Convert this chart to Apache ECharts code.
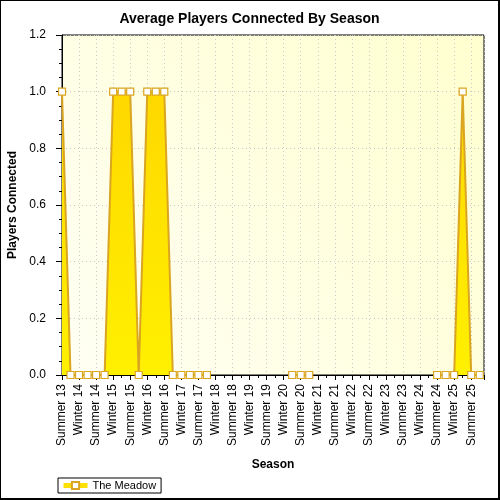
<!DOCTYPE html>
<html>
<head>
<meta charset="utf-8">
<script src="https://cdn.jsdelivr.net/npm/echarts@6/dist/echarts.min.js"></script>
<style>
  html, body { margin:0; padding:0; background:#fff; }
  #chart { width:500px; height:500px; box-sizing:border-box; border:1px solid #000; border-right-width:2px; border-bottom-width:2px; }
</style>
</head>
<body>
<div id="chart"></div>
<script>
// season labels, one on every second slot of the x axis
const seasons = [
  'Summer 13', 'Winter 14', 'Summer 14', 'Winter 15', 'Summer 15', 'Winter 16',
  'Summer 16', 'Winter 17', 'Summer 17', 'Winter 18', 'Summer 18', 'Winter 19',
  'Summer 19', 'Winter 20', 'Summer 20', 'Winter 21', 'Summer 21', 'Winter 22',
  'Summer 22', 'Winter 23', 'Summer 23', 'Winter 24', 'Summer 24', 'Winter 25',
  'Summer 25'
];
// average players per slot (null = no data)
const meadow = [
  1, 0, 0, 0, 0, 0, 1, 1, 1, 0, 1, 1, 1, 0, 0, 0, 0, 0,
  null, null, null, null, null, null, null, null, null,
  0, 0, 0,
  null, null, null, null, null, null, null, null, null, null, null, null, null, null,
  0, 0, 0, 1, 0, 0
];
const yTicks = [0, 0.2, 0.4, 0.6, 0.8, 1.0, 1.2];

const FONT = 'Liberation Sans';
const chart = echarts.init(document.getElementById('chart'), null, { renderer: 'canvas' });

const sideAxis = {
  axisLine: { show: false },
  axisLabel: { show: false },
  splitLine: { show: false },
  axisTick: { show: true, inside: true, length: 4, lineStyle: { color: '#000' } },
  minorTick: { show: true, splitNumber: 2, length: 3, lineStyle: { color: '#000' } }
};

chart.setOption({
  backgroundColor: '#fff',
  animation: false,
  title: {
    text: 'Average Players Connected By Season',
    left: 'center', top: 6,
    textStyle: { fontFamily: FONT, fontSize: 14, fontWeight: 'bold', color: '#000' }
  },
  legend: {
    left: 57, top: 477,
    padding: [2, 5, 2, 3],
    borderColor: '#000', borderWidth: 1,
    itemWidth: 24, itemHeight: 9,
    lineStyle: { width: 5, color: '#ffe000' },
    textStyle: { fontFamily: FONT, fontSize: 11, color: '#000' },
    data: ['The Meadow']
  },
  grid: {
    left: 61, right: 14, top: 34, bottom: 123,
    outerBoundsMode: 'none',
    show: true, borderColor: '#000', borderWidth: 1,
    backgroundColor: new echarts.graphic.LinearGradient(0, 1, 1, 0, [
      { offset: 0, color: '#fffff4' },
      { offset: 1, color: '#ffffcf' }
    ])
  },
  xAxis: [{
    type: 'value', min: 0, max: 49.5, interval: 2,
    name: 'Season', nameLocation: 'middle', nameGap: 84,
    nameTextStyle: { fontFamily: FONT, fontSize: 12, fontWeight: 'bold', color: '#000' },
    axisLine: { show: true, lineStyle: { color: '#000', width: 1 } },
    axisTick: { show: true, length: 5, lineStyle: { color: '#000' } },
    minorTick: { show: true, splitNumber: 2, length: 3, lineStyle: { color: '#000' } },
    axisLabel: {
      rotate: 90, margin: 9, showMaxLabel: false,
      fontFamily: FONT, fontSize: 12, color: '#000',
      formatter: v => (v % 2 === 0 && seasons[v / 2]) ? seasons[v / 2] : ''
    },
    splitLine: { show: true, lineStyle: { color: '#c8c8c8', type: [1, 3] } }
  }, Object.assign({ type: 'value', position: 'top', min: 0, max: 49.5, interval: 2 }, sideAxis)],
  yAxis: [{
    type: 'value', min: 0, max: 1.2, interval: 0.2,
    name: 'Players Connected', nameLocation: 'middle', nameGap: 38,
    nameTextStyle: { fontFamily: FONT, fontSize: 12, fontWeight: 'bold', color: '#000' },
    axisLine: { show: true, lineStyle: { color: '#000', width: 1 } },
    axisTick: { show: true, length: 6, lineStyle: { color: '#000' } },
    minorTick: { show: true, splitNumber: 4, length: 3, lineStyle: { color: '#000' } },
    axisLabel: {
      margin: 16, fontFamily: FONT, fontSize: 12, color: '#000',
      formatter: v => yTicks.some(t => Math.abs(t - v) < 1e-6) ? v.toFixed(1) : ''
    },
    splitLine: { show: true, lineStyle: { color: '#c8c8c8', type: [1, 3] } }
  }, Object.assign({ type: 'value', position: 'right', min: 0, max: 1.2, interval: 0.2 }, sideAxis, {
    minorTick: { show: true, splitNumber: 4, length: 3, lineStyle: { color: '#000' } }
  })],
  series: [{
    name: 'The Meadow',
    type: 'line',
    xAxisIndex: 0, yAxisIndex: 0,
    data: meadow.map((v, i) => [i, v]),
    connectNulls: false,
    symbol: 'rect', symbolSize: 7, showAllSymbol: true,
    itemStyle: { color: '#fff', borderColor: '#daa520', borderWidth: 1.2 },
    lineStyle: { color: '#daa520', width: 2 },
    areaStyle: {
      opacity: 1,
      color: new echarts.graphic.LinearGradient(0, 0, 0, 1, [
        { offset: 0, color: '#ffd800' },
        { offset: 1, color: '#fff000' }
      ])
    },
    z: 3
  }]
});
</script>
</body>
</html>
